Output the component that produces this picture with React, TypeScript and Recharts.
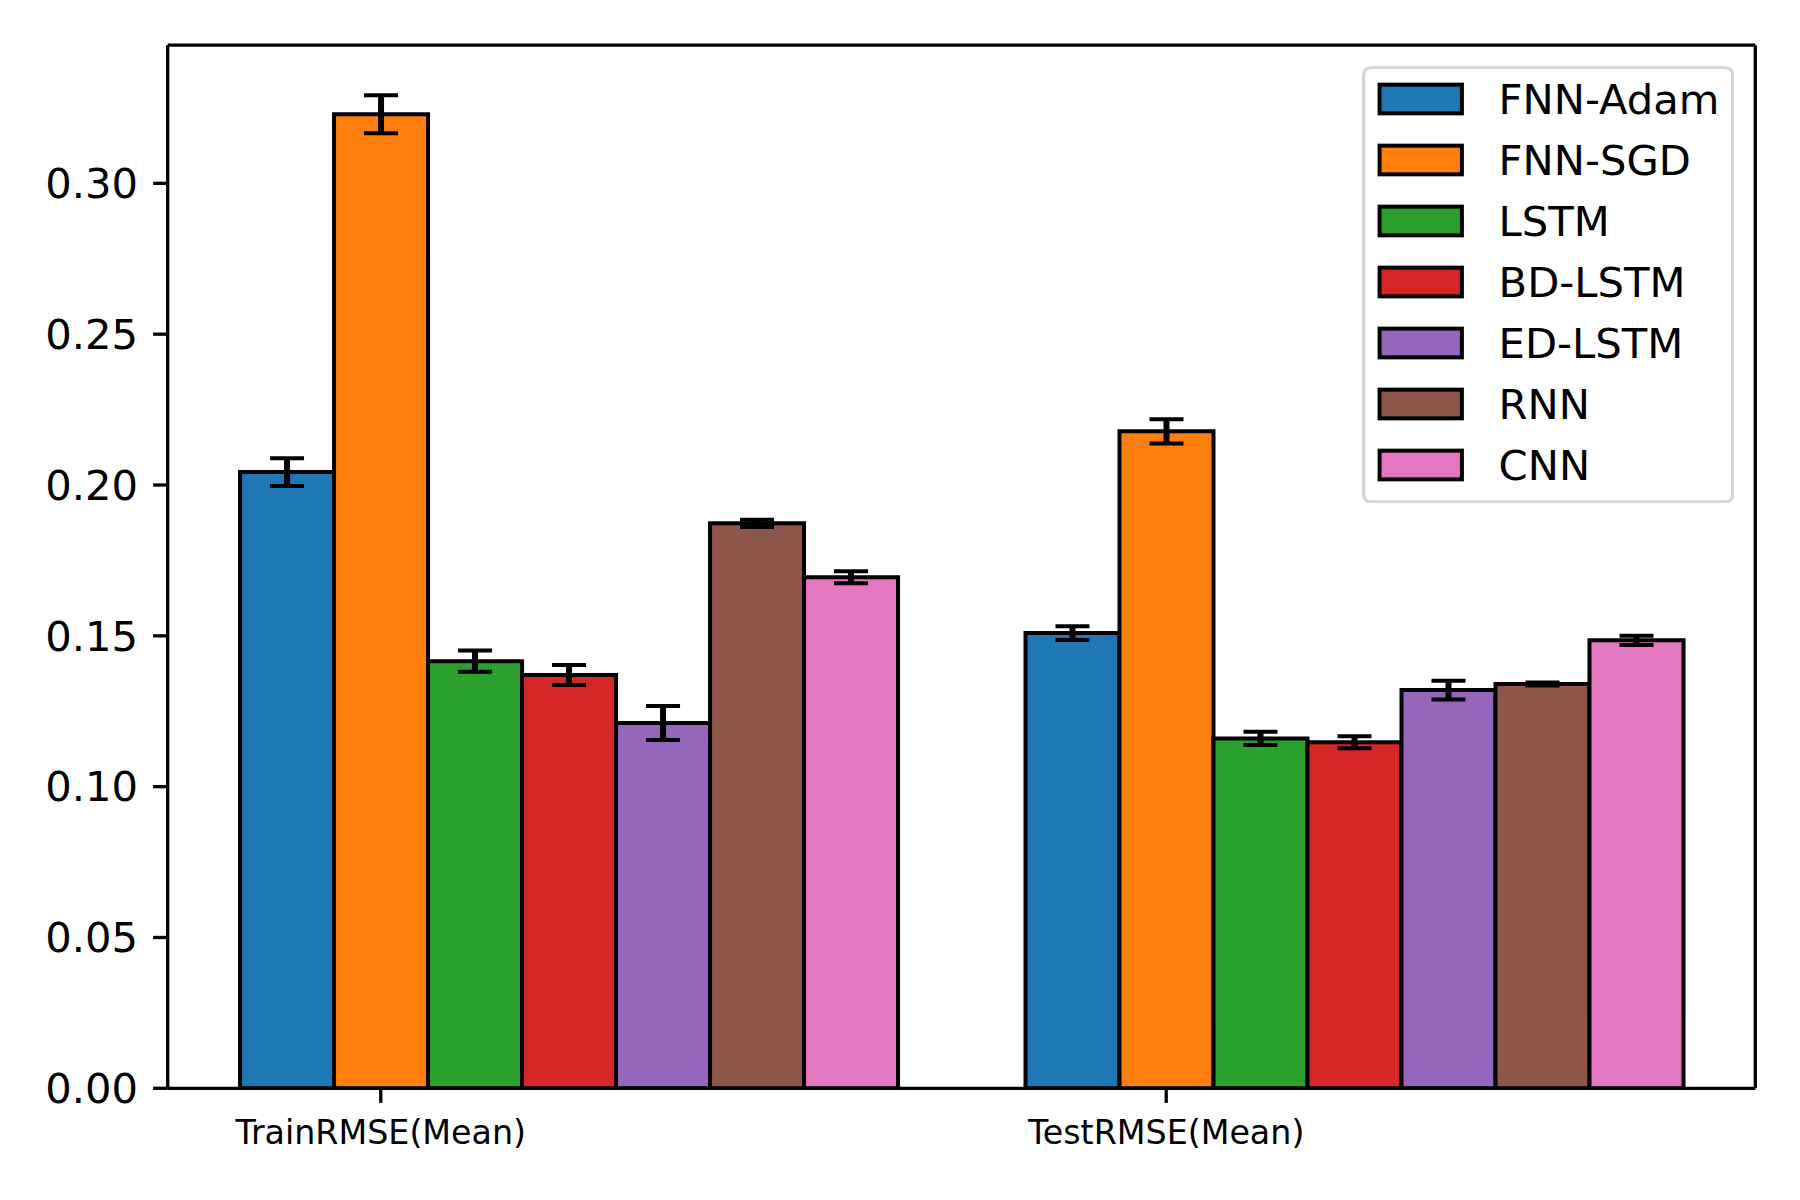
import React from "react";
import { BarChart, Bar, XAxis, YAxis, ErrorBar, Legend } from "recharts";

const categories = ["TrainRMSE(Mean)", "TestRMSE(Mean)"];
const models = ["FNN-Adam", "FNN-SGD", "LSTM", "BD-LSTM", "ED-LSTM", "RNN", "CNN"];
const colors = ["#1f77b4", "#ff7f0e", "#2ca02c", "#d62728", "#9467bd", "#8c564b", "#e377c2"];

const trainMean = [0.2043, 0.3229, 0.1416, 0.137, 0.1211, 0.1873, 0.1694];
const trainStd = [0.0046, 0.0063, 0.0035, 0.0033, 0.0056, 0.0012, 0.002];
const testMean = [0.1509, 0.2178, 0.116, 0.1147, 0.132, 0.134, 0.1485];
const testStd = [0.0023, 0.004, 0.0022, 0.002, 0.0031, 0.0005, 0.0015];

const yTicks = [0, 0.05, 0.1, 0.15, 0.2, 0.25, 0.3];
const Y_MAX = 0.3458;

const FONT = "DejaVu Sans";
const BAR_SIZE = 94;

const means = [trainMean, testMean];
const stds = [trainStd, testStd];

const data = categories.map((metric, ci) => {
  const row: Record<string, number | string> = { metric };
  models.forEach((m, i) => {
    row[m] = means[ci][i];
    row[m + "_err"] = stds[ci][i];
  });
  return row;
});

// matplotlib puts the tick under the second bar of each group
function CategoryTick(props: any) {
  const { x, y, payload } = props;
  const tx = x - 2 * BAR_SIZE;
  return (
    <g>
      <line x1={tx} y1={y} x2={tx} y2={y + 14.6} stroke="#000" strokeWidth={3.3} />
      <text x={tx} y={y + 55.7} textAnchor="middle" fontSize={33.3} fontFamily={FONT} fill="#000">
        {payload.value}
      </text>
    </g>
  );
}

function LegendBox() {
  const w = 372.3;
  const h = 437.6;
  return (
    <svg width={w} height={h} style={{ display: "block" }}>
      <rect
        x={1.65}
        y={1.65}
        width={w - 3.3}
        height={h - 3.3}
        rx={7}
        ry={7}
        fill="rgba(255,255,255,0.8)"
        stroke="#d6d6d6"
        strokeWidth={3.3}
      />
      {models.map((m, i) => {
        const cy = 33 + i * 61;
        return (
          <g key={m}>
            <rect x={17.6} y={cy - 14.35} width={82.3} height={28.7} fill={colors[i]} stroke="#000" strokeWidth={4} />
            <text x={136.6} y={cy + 15.3} fontSize={41.7} fontFamily={FONT} fill="#000">
              {m}
            </text>
          </g>
        );
      })}
    </svg>
  );
}

export default function App() {
  return (
    <div style={{ position: "absolute", left: 0, top: 0, width: 1800, height: 1200, background: "#fff" }}>
      <BarChart
        width={1800}
        height={1200}
        data={data}
        margin={{ top: 44.2, right: 43.7, bottom: 51.7, left: 67.7 }}
        barGap={0}
      >
        <XAxis
          dataKey="metric"
          padding={{ left: 8.35, right: 8.35 }}
          axisLine={{ stroke: "#000", strokeWidth: 3.3 }}
          tickLine={false}
          tickSize={0}
          tickMargin={0}
          height={60}
          tick={<CategoryTick />}
          interval={0}
        />
        <XAxis
          xAxisId="top"
          dataKey="metric"
          orientation="top"
          height={1}
          tick={false}
          tickLine={false}
          axisLine={{ stroke: "#000", strokeWidth: 3.3 }}
        />
        <YAxis
          type="number"
          domain={[0, Y_MAX]}
          ticks={yTicks}
          allowDataOverflow
          width={100}
          tickFormatter={(v: number) => v.toFixed(2)}
          tick={{ fontSize: 41.7, fill: "#000", fontFamily: FONT }}
          tickSize={14.6}
          tickMargin={15}
          tickLine={{ stroke: "#000", strokeWidth: 3.3 }}
          axisLine={{ stroke: "#000", strokeWidth: 3.3 }}
        />
        <YAxis
          yAxisId="right"
          orientation="right"
          type="number"
          domain={[0, Y_MAX]}
          width={1}
          tick={false}
          tickLine={false}
          axisLine={{ stroke: "#000", strokeWidth: 3.3 }}
        />
        {models.map((m, i) => (
          <Bar
            key={m}
            dataKey={m}
            fill={colors[i]}
            stroke="#000"
            strokeWidth={4}
            barSize={BAR_SIZE}
            isAnimationActive={false}
          >
            <ErrorBar dataKey={m + "_err"} width={17} stroke="#000" strokeWidth={4} isAnimationActive={false} />
            <ErrorBar dataKey={m + "_err"} width={0} stroke="#000" strokeWidth={6} isAnimationActive={false} />
          </Bar>
        ))}
        <Legend
          layout="vertical"
          align="center"
          verticalAlign="middle"
          content={() => <LegendBox />}
          wrapperStyle={{ left: 1361.7, top: 65.7, width: 372.3, height: 437.6 }}
        />
      </BarChart>
    </div>
  );
}
